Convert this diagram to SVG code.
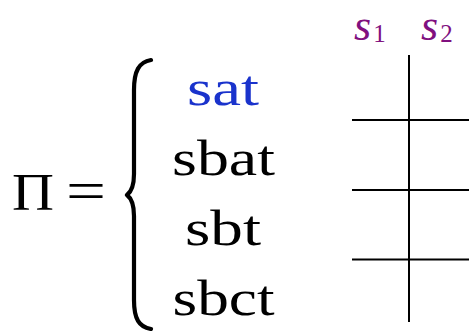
<svg xmlns="http://www.w3.org/2000/svg" width="471" height="331" viewBox="0 0 471 331">
<style>
text{font-family:"Liberation Serif","Times New Roman",serif;}
.item{font-size:50px;text-anchor:middle;fill:#000;}
.lab{fill:#80107f;font-size:44px;font-style:italic;}
.sub{font-style:normal;font-size:25px;}
.ln{stroke:#000;stroke-width:2;fill:none;}
</style>
<rect width="471" height="331" fill="#fff"/>
<g id="lhs">
<text x="12" y="210" font-size="53" textLength="42" lengthAdjust="spacingAndGlyphs">Π</text>
<text x="66" y="210" font-size="57" textLength="40" lengthAdjust="spacingAndGlyphs">=</text>
</g>
<g id="brace">
<path d="M151,60 C139,62 134,71 134,90 L134,174 C134,187 131,192 127,195 C131,198 134,203 134,216 L134,300 C134,319 139,327 151,329" fill="none" stroke="#000" stroke-width="4.2" stroke-linecap="round" stroke-linejoin="round"/>
</g>
<g id="items">
<text class="item" x="223" y="105" style="fill:#1a33cc" textLength="72" lengthAdjust="spacingAndGlyphs">sat</text>
<text class="item" x="223.5" y="175" textLength="103" lengthAdjust="spacingAndGlyphs">sbat</text>
<text class="item" x="223" y="245" textLength="76" lengthAdjust="spacingAndGlyphs">sbt</text>
<text class="item" x="223.5" y="315" textLength="102" lengthAdjust="spacingAndGlyphs">sbct</text>
</g>
<g id="labels">
<text class="lab" x="354" y="40">s<tspan class="sub" dx="2" dy="2">1</tspan></text>
<text class="lab" x="421" y="40">s<tspan class="sub" dx="2" dy="2">2</tspan></text>
</g>
<g id="connectors">
<line class="ln" x1="409" y1="55" x2="409" y2="322"/>
<line class="ln" x1="352" y1="120" x2="469" y2="120"/>
<line class="ln" x1="352" y1="190" x2="469" y2="190"/>
<line class="ln" x1="352" y1="259.5" x2="469" y2="259.5"/>
</g>
</svg>
